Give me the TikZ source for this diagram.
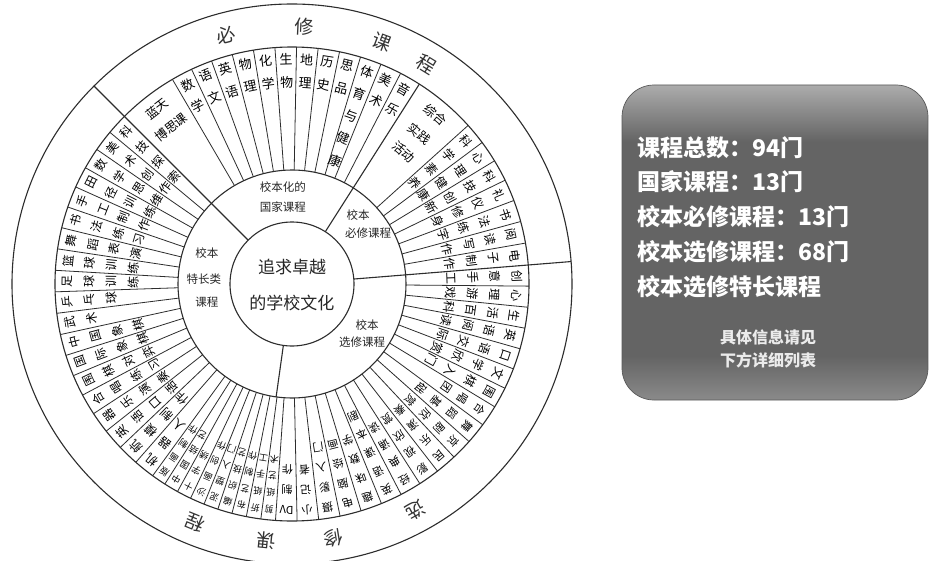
\documentclass[tikz,border=0pt]{standalone}
\usepackage{fontspec}
\setmainfont{Noto Sans CJK SC}
\newcount\chn
\makeatletter
\def\cl@loop#1#2\@nil{\global\advance\chn by 1\relax
  \node[clab,rotate=\ang-90] (t\the\chn) at (\ang:\rad) {#1};%
  \pgfmathsetmacro\rad{\rad-\lsp}%
  \ifx\relax#2\relax\else\cl@loop#2\@nil\fi}
\newcommand\radlabel[4]{\edef\ang{#1}\edef\rad{#2}\edef\lsp{#3}\expandafter\cl@loop#4\@nil}
\makeatother
\definecolor{ink}{RGB}{45,45,45}
\definecolor{pT}{RGB}{172,172,172}
\definecolor{pD}{RGB}{100,100,100}
\definecolor{pB}{RGB}{138,138,138}
\pgfdeclareverticalshading{panelshade}{100bp}{color(0bp)=(pB); color(25bp)=(pB); color(32bp)=(pD); color(66bp)=(pD); color(75bp)=(pT); color(100bp)=(pT)}
\begin{document}
\begin{tikzpicture}[x=1pt,y=1pt,
  ring/.style={draw=ink,line width=1.1pt},
  spoke/.style={draw=ink,line width=0.8pt},
  clab/.style={inner sep=0pt,text=black},
  f13/.style={font=\fontsize{13}{13}\selectfont},
  f12/.style={font=\fontsize{12}{12}\selectfont},
  f11/.style={font=\fontsize{11}{11}\selectfont},
  f9/.style={font=\fontsize{9}{9}\selectfont},
  wlab/.style={inner sep=0pt,text=black,font=\fontsize{12.5}{12.5}\selectfont},
  mlab/.style={inner sep=0pt,text=black!85,font=\fontsize{11.5}{11.5}\selectfont},
  olab/.style={inner sep=0pt,text=black!80,font=\fontsize{19}{19}\selectfont},
  ptext/.style={inner sep=0pt,anchor=west,text=white,font=\fontsize{23}{23}\selectfont\bfseries},
  psmall/.style={inner sep=0pt,text=white!92!black,font=\fontsize{16}{16}\selectfont\bfseries}]
\useasboundingbox (-292,-276) rectangle (639,284);
\fill[white] (-292,-276) rectangle (639,284);
% circles
\draw[ring] (0,0) circle (62);
\draw[ring] (0,0) circle (114);
\draw[ring] (0,0) circle (237);
\draw[ring] (0,0) circle (280);
% dividers
\draw[ring] (135:62) -- (135:280);
\draw[ring] (57.5:62) -- (57.5:237);
\draw[ring] (4.6:62) -- (4.6:280);
\draw[ring] (-98:62) -- (-98:114);
% spokes
\foreach \k in {0,...,11}{\draw[spoke] ({120.3-\k*5.2333}:114) -- ({120.3-\k*5.2333}:237);}
\foreach \k in {0,...,6}{\draw[spoke] ({42-\k*5.343}:114) -- ({42-\k*5.343}:237);}
\foreach \k in {1,...,7}{\draw[spoke] ({4.6-\k*5.1143}:114) -- ({4.6-\k*5.1143}:237);}
\foreach \k in {1,...,12}{\draw[spoke] ({-31.2-\k*5.2333}:114) -- ({-31.2-\k*5.2333}:237);}
\foreach \k in {1,...,9}{\draw[spoke] ({-94-\k*3.5556}:114) -- ({-94-\k*3.5556}:237);}
\foreach \k in {1,...,18}{\draw[spoke] ({-126-\k*5.2105}:114) -- ({-126-\k*5.2105}:237);}
% labels: national courses
\begin{scope}[every node/.append style={f13}]
\foreach \lab [count=\i] in {数学,语文,英语,物理,化学,生物,地理,历史,思品,体育与健康,美术,音乐}{
  \pgfmathsetmacro\aa{120.3-(\i-0.5)*5.2333}
  \radlabel{\aa}{225}{23.5}{\lab}
}
\end{scope}
\begin{scope}[every node/.append style={f12}]
\foreach \lab [count=\i] in {科学素养,心理健康,科技创新,礼仪修身,书法练字,阅读写作,电子制作}{
  \pgfmathsetmacro\aa{42-(\i-0.5)*5.343}
  \radlabel{\aa}{225}{22}{\lab}
}
\foreach \lab [count=\i] in {创意手工,心理游戏,生活百科,英语阅读,口语交际,文学欣赏,围棋入门}{
  \pgfmathsetmacro\aa{4.6-(\i-0.5)*5.1143}
  \radlabel{\aa}{225}{22}{\lab}
}
\foreach \lab [count=\i] in {机器人,航模制作,英语口语,器乐演奏,合唱练习,围棋对弈,国际象棋,中国象棋,武术,乒乓球,足球训练,篮球训练,舞蹈表演,书法练习,手工制作,田径训练,数学思维,美术创作,科技探索}{
  \pgfmathsetmacro\aa{-126-(\i-0.5)*5.2105}
  \radlabel{\aa}{225}{22}{\lab}
}
\end{scope}
\begin{scope}[every node/.append style={f11}]
\foreach \lab [count=\i] in {合唱团,舞蹈基础,京剧欣赏,民乐演奏,影视欣赏,经典诵读,英语课本剧,趣味数学,电脑绘画,摄影入门,小记者,{DV}制作}{
  \pgfmathsetmacro\aa{-31.2-(\i-0.5)*5.2333}
  \radlabel{\aa}{226}{20}{\lab}
}
\end{scope}
\begin{scope}[every node/.append style={f9}]
\foreach \lab [count=\i] in {剪纸艺术,折纸手工,布艺制作,编织技艺,泥塑入门,沙画创作,十字绣,中国结艺,版画制作}{
  \pgfmathsetmacro\aa{-94-(\i-0.5)*3.5556}
  \radlabel{\aa}{227}{17}{\lab}
}
\end{scope}
% wide segments
\node[wlab,rotate=37.65] (lt1) at (127.65:221) {蓝天};
\node[wlab,rotate=37.65] (lt2) at (127.65:198) {博思课};
\node[wlab,rotate=-40.25] (zh1) at (49.75:222) {综合};
\node[wlab,rotate=-40.25] (zh2) at (49.75:197) {实践};
\node[wlab,rotate=-40.25] (zh3) at (49.75:173) {活动};
% middle ring
\node[mlab] (m1a) at (-9,97) {校本化的};
\node[mlab] (m1b) at (-9,77) {国家课程};
\node[mlab] (m2a) at (66,69) {校本};
\node[mlab] (m2b) at (76,51) {必修课程};
\node[mlab] (m3a) at (-85,31) {校本};
\node[mlab] (m3b) at (-88,5) {特长类};
\node[mlab] (m3c) at (-85,-18) {课程};
\node[mlab] (m4a) at (75,-41) {校本};
\node[mlab] (m4b) at (70,-58) {选修课程};
% center
\node[inner sep=0pt,text=black!85,font=\fontsize{17}{17}\selectfont] (c1) at (0,17) {追求卓越};
\node[inner sep=0pt,text=black!85,font=\fontsize{17}{17}\selectfont] (c2) at (0,-19) {的学校文化};
% outer ring titles
\foreach \aa/\ch [count=\i] in {104.8/必,87.2/修,69.5/课,58.5/程,298.6/选,279.3/修,264.3/课,247.8/程}{
  \node[olab,rotate=\aa-90] (o\i) at (\aa:258) {\ch};
}
% info panel
\shade[shading=panelshade,rounded corners=32pt] (330,-116) rectangle (636,199);
\draw[black!65,line width=0.7pt,rounded corners=32pt] (330,-116) rectangle (636,199);
\node[ptext] (p1) at (345,136) {课程总数：94门};
\node[ptext] (p2) at (345,102) {国家课程：13门};
\node[ptext] (p3) at (345,67) {校本必修课程：13门};
\node[ptext] (p4) at (345,32) {校本选修课程：68门};
\node[ptext] (p5) at (345,-3) {校本选修特长课程};
\node[psmall] (p6) at (476,-53) {具体信息请见};
\node[psmall] (p7) at (476,-76) {下方详细列表};
\end{tikzpicture}
\end{document}
